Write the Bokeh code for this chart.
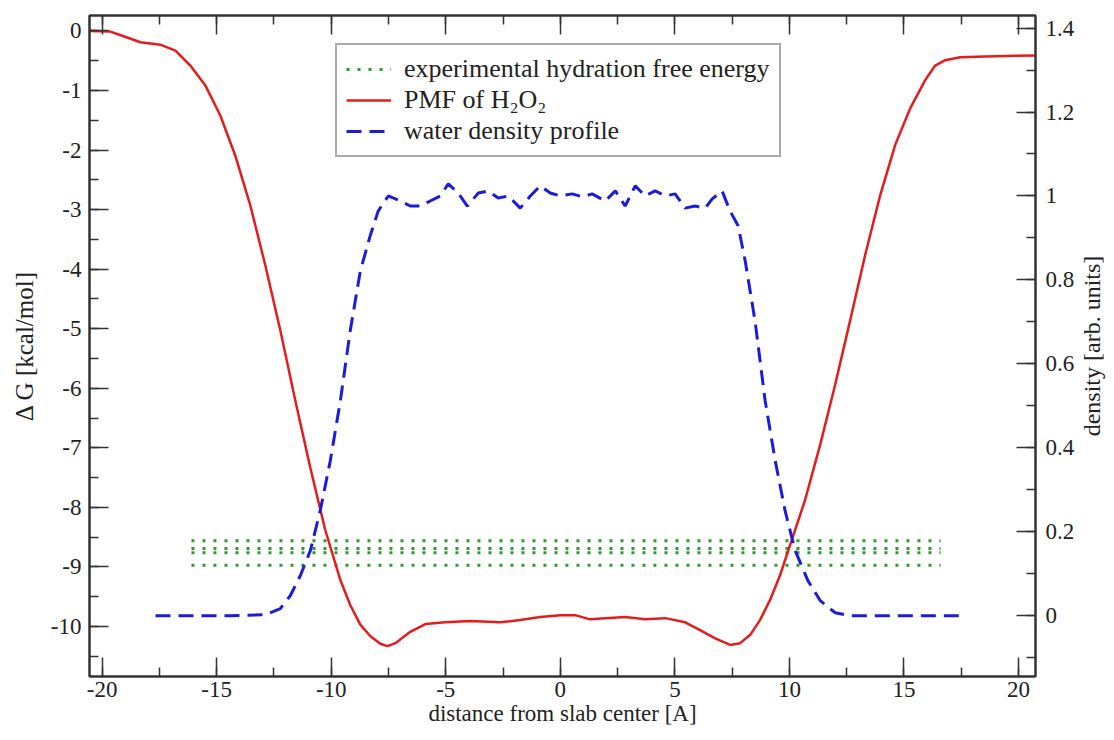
import math
from bokeh.plotting import figure
from bokeh.models import (Range1d, LinearAxis, Legend, LegendItem, Label,
                          SingleIntervalTicker, CustomJSTickFormatter)
from bokeh.embed import file_html
from bokeh.resources import INLINE

# ---------------- data ----------------
pmf_x = [-20.55, -19.64, -19.12, -18.33, -17.46, -16.8, -16.15, -15.5, -14.84, -14.19,
         -13.53, -12.88, -12.22, -11.57, -10.91, -10.26, -9.6, -9.17, -8.73, -8.3,
         -7.86, -7.55, -7.2, -6.55, -5.89, -5.02, -3.93, -2.62, -1.75, -0.88,
         0.0, 0.65, 1.3, 1.96, 2.83, 3.7, 4.58, 5.45, 6.1, 6.76,
         7.41, 7.85, 8.29, 8.72, 9.16, 9.59, 10.03, 10.68, 11.34, 11.99,
         12.65, 13.3, 13.96, 14.61, 15.27, 15.92, 16.36, 16.8, 17.45, 18.54, 20.74]
pmf_y = [0.0, -0.01, -0.08, -0.19, -0.23, -0.33, -0.58, -0.91, -1.42, -2.09,
         -2.93, -3.93, -5.03, -6.2, -7.34, -8.38, -9.22, -9.64, -9.97, -10.16,
         -10.29, -10.33, -10.28, -10.09, -9.96, -9.93, -9.91, -9.93, -9.89, -9.84,
         -9.81, -9.81, -9.88, -9.86, -9.84, -9.88, -9.86, -9.93, -10.06, -10.2,
         -10.31, -10.28, -10.14, -9.89, -9.55, -9.14, -8.63, -7.88, -6.95, -5.95,
         -4.86, -3.77, -2.76, -1.92, -1.3, -0.83, -0.58, -0.49, -0.44, -0.43, -0.41]

dens_x = [-17.67, -14.4, -12.88, -12.22, -11.78, -11.35, -10.91, -10.48, -10.04, -9.6,
          -9.17, -8.73, -8.3, -7.95, -7.51, -6.98, -6.55, -6.11, -5.68, -5.24,
          -4.89, -4.46, -4.06, -3.58, -3.15, -2.71, -2.27, -1.75, -1.31, -0.88,
          -0.44, 0.0, 0.52, 0.96, 1.39, 1.96, 2.4, 2.83, 3.27, 3.7,
          4.14, 4.58, 5.01, 5.45, 5.88, 6.32, 6.63, 7.06, 7.41, 7.76,
          8.07, 8.5, 8.94, 9.38, 9.81, 10.25, 10.81, 11.34, 11.99, 12.65, 17.54]
dens_y = [0.0, 0.0, 0.002, 0.017, 0.048, 0.095, 0.155, 0.25, 0.369, 0.512,
          0.679, 0.821, 0.905, 0.964, 1.0, 0.988, 0.976, 0.976, 0.988, 1.0,
          1.029, 1.007, 0.976, 1.007, 1.012, 0.995, 1.0, 0.971, 1.0, 1.024,
          1.007, 1.0, 1.005, 0.998, 1.005, 0.988, 1.012, 0.976, 1.024, 1.0,
          1.012, 1.0, 1.005, 0.971, 0.976, 0.971, 0.993, 1.012, 0.964, 0.929,
          0.845, 0.702, 0.512, 0.369, 0.25, 0.155, 0.083, 0.036, 0.007, 0.0, 0.0]

exp_levels = [-8.56, -8.69, -8.76, -8.97]
exp_x_span = [-16.1, 16.6]

legend_labels = ["experimental hydration free energy", "PMF of H\u2082O\u2082",
                 "water density profile"]
right_title = "density [arb. units]"

# ---------------- styling ----------------
FONT = "Liberation Serif"
AX = "#333333"
TXT = "#222222"
RED = "#e41c1c"
BLUE = "#1c1cd8"
GREEN = "#2e9b2e"

W, H = 1114, 740
BL, BR, BT, BB = 89, 79, 15, 64
FH = H - BT - BB

p = figure(width=W, height=H, output_backend="svg", toolbar_location=None,
           x_range=Range1d(-20.55, 20.74), y_range=Range1d(-10.84, 0.26),
           x_axis_location=None, y_axis_location=None,
           min_border_left=BL, min_border_right=BR, min_border_top=BT,
           min_border_bottom=BB)
p.extra_y_ranges = {"dens": Range1d(-0.145, 1.43)}
p.grid.visible = False
p.outline_line_color = AX
p.outline_line_width = 2
p.background_fill_color = "white"
p.border_fill_color = "white"


def style(ax):
    ax.axis_line_width = 2
    ax.axis_line_color = AX
    ax.major_tick_in = 19
    ax.major_tick_out = 0
    ax.minor_tick_in = 9
    ax.minor_tick_out = 0
    ax.major_tick_line_width = 1.5
    ax.minor_tick_line_width = 1.5
    ax.major_tick_line_color = AX
    ax.minor_tick_line_color = AX
    ax.major_label_text_font = FONT
    ax.major_label_text_font_size = "23px"
    ax.major_label_text_color = TXT
    ax.axis_label_text_font = FONT
    ax.axis_label_text_font_style = "normal"
    ax.axis_label_text_color = TXT


int_fmt = "return tick.toFixed(0)"

bottom = LinearAxis(ticker=SingleIntervalTicker(interval=5, num_minor_ticks=2),
                    formatter=CustomJSTickFormatter(code=int_fmt),
                    axis_label="distance from slab center [A]")
style(bottom)
bottom.major_label_standoff = 5
bottom.axis_label_standoff = 1
bottom.axis_label_text_font_size = "23px"
p.add_layout(bottom, "below")

top = LinearAxis(ticker=SingleIntervalTicker(interval=5, num_minor_ticks=2),
                 formatter=CustomJSTickFormatter(code="return ''"))
style(top)
top.major_label_text_font_size = "1px"
top.major_label_standoff = 0
p.add_layout(top, "above")

left = LinearAxis(ticker=SingleIntervalTicker(interval=1, num_minor_ticks=2),
                  formatter=CustomJSTickFormatter(code=int_fmt),
                  axis_label="\u0394 G [kcal/mol]")
style(left)
left.major_label_standoff = 8
left.axis_label_standoff = 10
left.axis_label_text_font_size = "25px"
p.add_layout(left, "left")

right = LinearAxis(y_range_name="dens",
                   ticker=SingleIntervalTicker(interval=0.2, num_minor_ticks=2),
                   formatter=CustomJSTickFormatter(code="return String(Math.round(tick*10)/10)"))
style(right)
right.major_label_standoff = 10
p.add_layout(right, "right")

# right-hand axis title in its own side panel, reading bottom to top
p.add_layout(Label(x=14, y=FH / 2, x_units="screen", y_units="screen",
                   text=right_title, angle=math.pi / 2, text_align="center",
                   text_baseline="middle", text_font=FONT, text_font_size="24px",
                   text_color=TXT), "right")

# ---------------- glyphs ----------------
g = p.multi_line(xs=[exp_x_span for _ in exp_levels], ys=[[lv, lv] for lv in exp_levels],
                 line_color=GREEN, line_width=3, line_dash="3 8")
r = p.line(pmf_x, pmf_y, line_color=RED, line_width=2.5)
b = p.line(dens_x, dens_y, y_range_name="dens", line_color=BLUE, line_width=3,
           line_dash="15 8")

legend = Legend(items=[LegendItem(label=legend_labels[0], renderers=[g]),
                       LegendItem(label=legend_labels[1], renderers=[r]),
                       LegendItem(label=legend_labels[2], renderers=[b])],
                location=(246, 519))
legend.border_line_color = "#555555"
legend.border_line_width = 2
legend.background_fill_color = "white"
legend.background_fill_alpha = 1
legend.label_text_font = FONT
legend.label_text_font_size = "26px"
legend.label_text_color = TXT
legend.glyph_width = 45
legend.glyph_height = 30
legend.label_height = 30
legend.label_standoff = 13
legend.padding = 9
legend.spacing = 1
legend.margin = 0
p.add_layout(legend)

open("out.html", "w").write(file_html(p, INLINE))
